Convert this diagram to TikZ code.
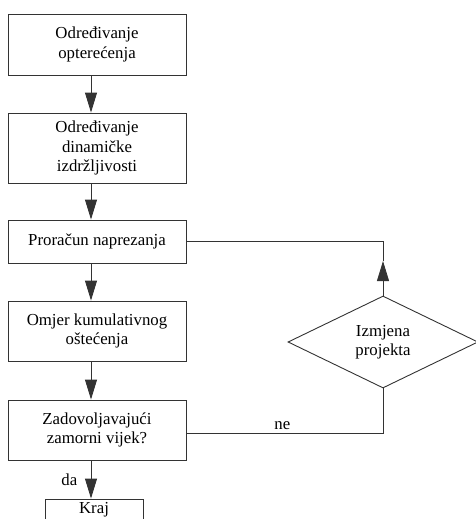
\documentclass[tikz,border=0pt]{standalone}
\usepackage{fontspec}
\setmainfont{Liberation Serif}
\usetikzlibrary{positioning,shapes.geometric,arrows.meta}

\begin{document}
\begin{tikzpicture}[x=1pt,y=-1pt]
\tikzstyle{box}=[rectangle, draw=black!80, line width=0.9pt, minimum width=178pt, inner sep=2pt, align=center, font=\fontsize{16.8}{19.5}\selectfont]
\tikzstyle{decision}=[diamond, draw=black!80, line width=0.9pt, minimum width=190pt, minimum height=92pt, inner sep=0pt, align=center, font=\fontsize{16.8}{19.5}\selectfont]
\tikzstyle{connect}=[-{Triangle[length=20pt,width=12pt]}, line width=0.9pt, draw=black!80]
\tikzstyle{line}=[line width=0.9pt, draw=black!80]
\tikzstyle{lbl}=[font=\fontsize{16.8}{19.5}\selectfont]
\useasboundingbox (0,0) rectangle (475,519);
	\node[box, minimum height=61pt] (b_1) at (97,44.5) {Određivanje\\opterećenja};
	\node[box, minimum height=70pt] (b_2) at (97,148) {Određivanje\\dinamičke\\izdržljivosti};
	\node[box, minimum height=43pt] (b_3) at (97,241.5) {Proračun naprezanja};
	\node[box, minimum height=60pt] (b_4) at (97,331) {Omjer kumulativnog\\oštećenja};
	\node[box, minimum height=60pt] (b_5) at (97,430) {Zadovoljavajući\\zamorni vijek?};
	\node[box, minimum width=98pt, minimum height=22pt] (kraj) at (94,510) {Kraj};
	\node[decision] (izm) at (383,342) {Izmjena\\projekta};
	\coordinate (tip) at (383,261);

	\path
		([xshift=-6pt]b_1.south) edge[connect] ([xshift=-6pt]b_2.north)
		([xshift=-6pt]b_2.south) edge[connect] ([xshift=-6pt]b_3.north)
		([xshift=-6pt]b_3.south) edge[connect] ([xshift=-6pt]b_4.north)
		([xshift=-6pt]b_4.south) edge[connect] ([xshift=-6pt]b_5.north)
		([xshift=-6pt]b_5.south) edge[connect] node[lbl, left=10pt] {da} ([xshift=-3pt]kraj.north)
		(izm.north) edge[connect] (tip);
	\draw[line] (tip) |- (b_3.east);
	\draw[line] ([yshift=-3pt]b_5.east) -| node[lbl, pos=0.244, above] {ne} (izm.south);

\end{tikzpicture}
\end{document}
